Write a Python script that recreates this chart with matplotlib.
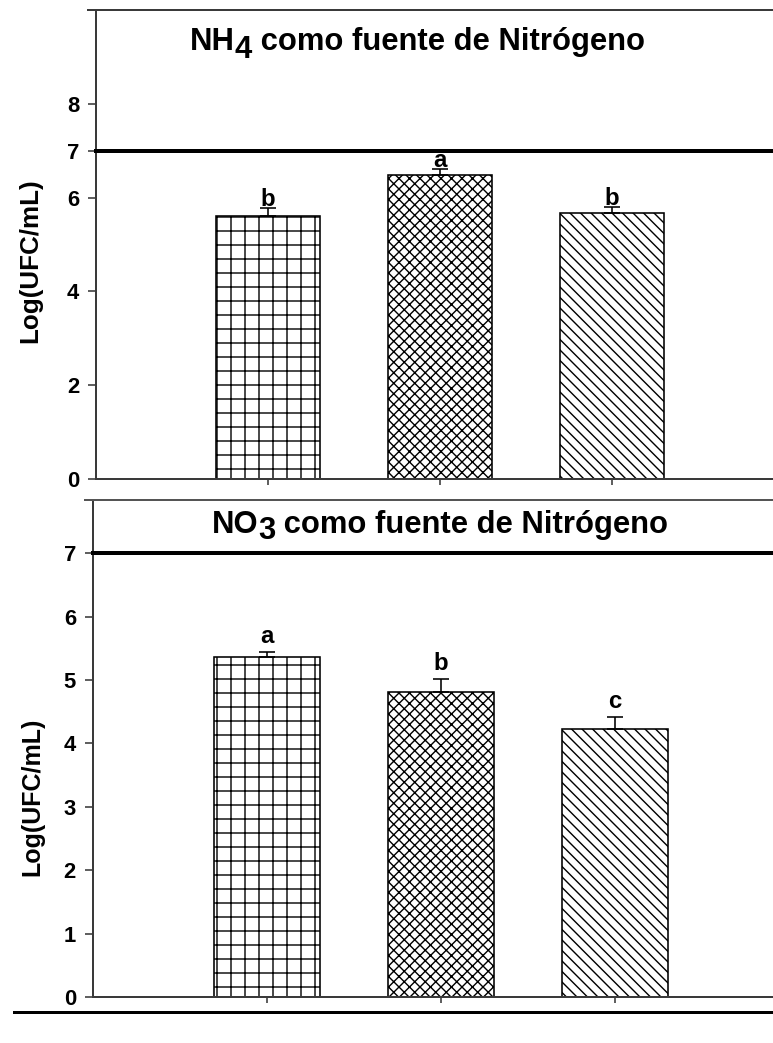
import matplotlib
matplotlib.use("Agg")
import matplotlib.pyplot as plt
from matplotlib.lines import Line2D

W, H = 773, 1043
DPI = 252


def pt(px):
    """Convert a length in output pixels to points."""
    return px * 72.0 / DPI


def fx(px):
    return px / W


def fy(py):
    return 1.0 - py / H


# ---- data -------------------------------------------------------------
treatments = [1, 2, 3]
hatches = ['+++', 'x' * 8, '\\' * 8]

nh4_mean = [5.60, 6.49, 5.68]
nh4_err = [0.17, 0.13, 0.13]
nh4_letters = ['b', 'a', 'b']
nh4_ticks = [0, 2, 4, 6, 7, 8]

no3_mean = [5.36, 4.81, 4.23]
no3_err = [0.08, 0.20, 0.19]
no3_letters = ['a', 'b', 'c']
no3_ticks = [0, 1, 2, 3, 4, 5, 6, 7]

threshold = 7
ylabel = 'Log(UFC/mL)'

# ---- style ------------------------------------------------------------
FONT = 'Liberation Sans'
plt.rcParams['font.family'] = [FONT, 'DejaVu Sans']
plt.rcParams['font.weight'] = 'bold'
plt.rcParams['hatch.linewidth'] = pt(1.4)
SPINE = '#3a3a3a'

fig = plt.figure(figsize=(W / DPI, H / DPI), dpi=DPI)


def panel(rect, means, errs, letters, ticks, ylim, letter_gap):
    ax = fig.add_axes(rect)
    ax.bar(treatments, means, width=0.605, color='white', edgecolor='black',
           linewidth=pt(1.6), hatch=hatches, zorder=2)
    ax.errorbar(treatments, means, yerr=[[0] * len(errs), errs], fmt='none',
                ecolor='black', elinewidth=pt(1.6), capsize=pt(8),
                capthick=pt(1.6), zorder=3)
    for x, m, e, lab in zip(treatments, means, errs, letters):
        ax.annotate(lab, (x, m + e), xytext=(0, pt(letter_gap)),
                    textcoords='offset points', ha='center', va='baseline',
                    fontsize=pt(24), fontweight='bold', family=FONT)
    ax.axhline(threshold, color='black', linewidth=pt(4), zorder=4,
               clip_on=False)
    ax.set_xlim(0, 4)
    ax.set_ylim(*ylim)
    ax.set_yticks(ticks)
    ax.set_yticklabels([str(t) for t in ticks])
    ax.set_xticks(treatments)
    ax.set_xticklabels([])
    for side in ('top', 'right'):
        ax.spines[side].set_visible(False)
    for side in ('left', 'bottom'):
        ax.spines[side].set_color(SPINE)
        ax.spines[side].set_linewidth(pt(2))
    ax.tick_params(axis='y', direction='out', length=pt(8), width=pt(1.6),
                   pad=pt(9), labelsize=pt(22), color=SPINE)
    ax.tick_params(axis='x', direction='out', length=pt(6), width=pt(1.6),
                   color=SPINE)
    for lbl in ax.get_yticklabels():
        lbl.set_fontweight('bold')
    ax.patch.set_alpha(0)
    return ax


# top panel: NH4
ax1 = panel([fx(96), fy(479), fx(688), (479 - 10) / H],
            nh4_mean, nh4_err, nh4_letters, nh4_ticks, (0, 10), 2)
# bottom panel: NO3
ax2 = panel([fx(93), fy(997), fx(696), (997 - 500) / H],
            no3_mean, no3_err, no3_letters, no3_ticks, (0, 7.84), 9)

# frame lines along the top of each panel and the rule under the figure
fig.add_artist(Line2D([fx(88), fx(W + 5)], [fy(10), fy(10)],
                      color=SPINE, linewidth=pt(2)))
fig.add_artist(Line2D([fx(85), fx(W + 5)], [fy(500), fy(500)],
                      color='#555555', linewidth=pt(2)))
fig.add_artist(Line2D([fx(14), fx(W + 5)], [fy(1012), fy(1012)],
                      color='black', linewidth=pt(3)))

# y-axis labels
fig.text(fx(30), fy(261), ylabel, rotation=90, ha='center', va='center',
         fontsize=pt(26), fontweight='bold', family=FONT)
fig.text(fx(32), fy(797), ylabel, rotation=90, ha='center', va='center',
         fontsize=pt(25), fontweight='bold', family=FONT)

# panel titles with a lowered subscript digit
renderer = fig.canvas.get_renderer()


def sub_title(cx, baseline_py, head, digit, tail, size_px, drop_px):
    kw = dict(fontsize=pt(size_px), fontweight='bold', family=FONT,
              ha='left', va='baseline')
    parts = [fig.text(0, 0, head, **kw), fig.text(0, 0, digit, **kw),
             fig.text(0, 0, tail, **kw)]
    widths = [p.get_window_extent(renderer).width for p in parts]
    x = cx - sum(widths) / 2
    drops = [0, drop_px, 0]
    for p, w, d in zip(parts, widths, drops):
        p.set_position((fx(x), fy(baseline_py + d)))
        x += w


sub_title(417, 50, 'NH', '4', ' como fuente de Nitrógeno', 31, 8)
sub_title(440, 533, 'NO', '3', ' como fuente de Nitrógeno', 31, 6)

fig.savefig('out.png', dpi=DPI)
